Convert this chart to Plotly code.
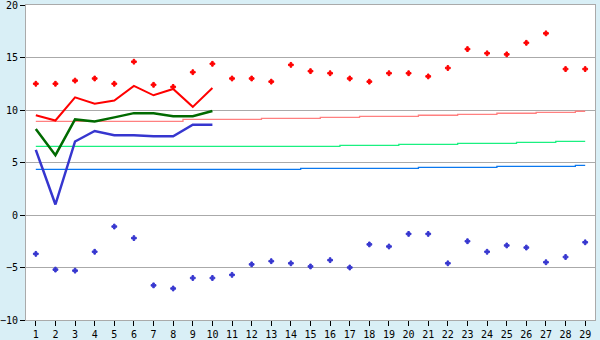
import plotly.graph_objects as go

days = list(range(1, 30))
tick_labels = [str(d) for d in days]

max_pts = [12.5, 12.5, 12.8, 13.0, 12.5, 14.6, 12.4, 12.2, 13.6, 14.4,
           13.0, 13.0, 12.7, 14.3, 13.7, 13.5, 13.0, 12.7, 13.5, 13.5,
           13.2, 14.0, 15.8, 15.4, 15.3, 16.4, 17.3, 13.9, 13.9]
min_pts = [-3.7, -5.2, -5.3, -3.5, -1.1, -2.2, -6.7, -7.0, -6.0, -6.0,
           -5.7, -4.7, -4.4, -4.6, -4.9, -4.3, -5.0, -2.8, -3.0, -1.8,
           -1.8, -4.6, -2.5, -3.5, -2.9, -3.1, -4.5, -4.0, -2.6]

line_days = list(range(1, 11))
red_line = [9.5, 9.0, 11.2, 10.6, 10.9, 12.3, 11.4, 12.0, 10.3, 12.1]
green_line = [8.2, 5.7, 9.1, 8.9, 9.3, 9.7, 9.7, 9.4, 9.4, 9.9]
blue_line = [6.2, 1.0, 7.0, 8.0, 7.6, 7.6, 7.5, 7.5, 8.6, 8.6]

norm_max = [8.92]*8 + [9.11]*4 + [9.21]*3 + [9.30]*2 + [9.40]*3 + [9.50]*2 + [9.59]*2 + [9.69]*2 + [9.78]*2 + [9.88]
norm_mean = [6.54]*16 + [6.64]*3 + [6.73]*3 + [6.83]*3 + [6.92]*2 + [7.02]*2
norm_min = [4.35]*14 + [4.44]*6 + [4.54]*4 + [4.64]*4 + [4.73]

RED = "#FF0000"
BLUE = "#3636CF"
GREEN = "#006A00"

fig = go.Figure()
fig.add_trace(go.Scatter(x=days, y=norm_max, mode="lines", line=dict(color="#FF8080", width=1.3, shape="hvh")))
fig.add_trace(go.Scatter(x=days, y=norm_mean, mode="lines", line=dict(color="#1AF080", width=1.3, shape="hvh")))
fig.add_trace(go.Scatter(x=days, y=norm_min, mode="lines", line=dict(color="#0A78F0", width=1.3, shape="hvh")))
fig.add_trace(go.Scatter(x=line_days, y=red_line, mode="lines", line=dict(color=RED, width=2)))
fig.add_trace(go.Scatter(x=line_days, y=green_line, mode="lines", line=dict(color=GREEN, width=2.5)))
fig.add_trace(go.Scatter(x=line_days, y=blue_line, mode="lines", line=dict(color=BLUE, width=2.5)))
fig.add_trace(go.Scatter(x=days, y=max_pts, mode="markers",
                         marker=dict(symbol="cross", size=4, color=RED, line=dict(width=1, color=RED))))
fig.add_trace(go.Scatter(x=days, y=min_pts, mode="markers",
                         marker=dict(symbol="cross", size=4, color=BLUE, line=dict(width=1, color=BLUE))))

fig.update_layout(
    width=600, height=340,
    margin=dict(l=26, r=5, t=5, b=20),
    paper_bgcolor="#D9EFF6",
    plot_bgcolor="#FFFFFF",
    showlegend=False,
    font=dict(family="DejaVu Sans Mono", size=10, color="#000000"),
)
fig.update_xaxes(
    range=[0.5, 29.5], tickmode="array", tickvals=days, ticktext=tick_labels,
    showgrid=False, zeroline=False, automargin=False, ticklabeloverflow="allow",
    showline=True, linecolor="#AAAAAA", linewidth=1, mirror=True,
    ticks="outside", ticklen=5, tickcolor="#000000", tickwidth=1,
    tickfont=dict(family="DejaVu Sans Mono", size=10, color="#000000"),
)
fig.update_yaxes(
    range=[-10, 20], tickvals=[-10, -5, 0, 5, 10, 15, 20],
    showgrid=True, gridcolor="#AAAAAA", gridwidth=1, zeroline=False, automargin=False,
    ticklabeloverflow="allow",
    showline=True, linecolor="#AAAAAA", linewidth=1, mirror=True,
    ticks="outside", ticklen=5, tickcolor="#000000", tickwidth=1,
    tickfont=dict(family="DejaVu Sans Mono", size=10, color="#000000"),
)

fig.write_html("out.html")
